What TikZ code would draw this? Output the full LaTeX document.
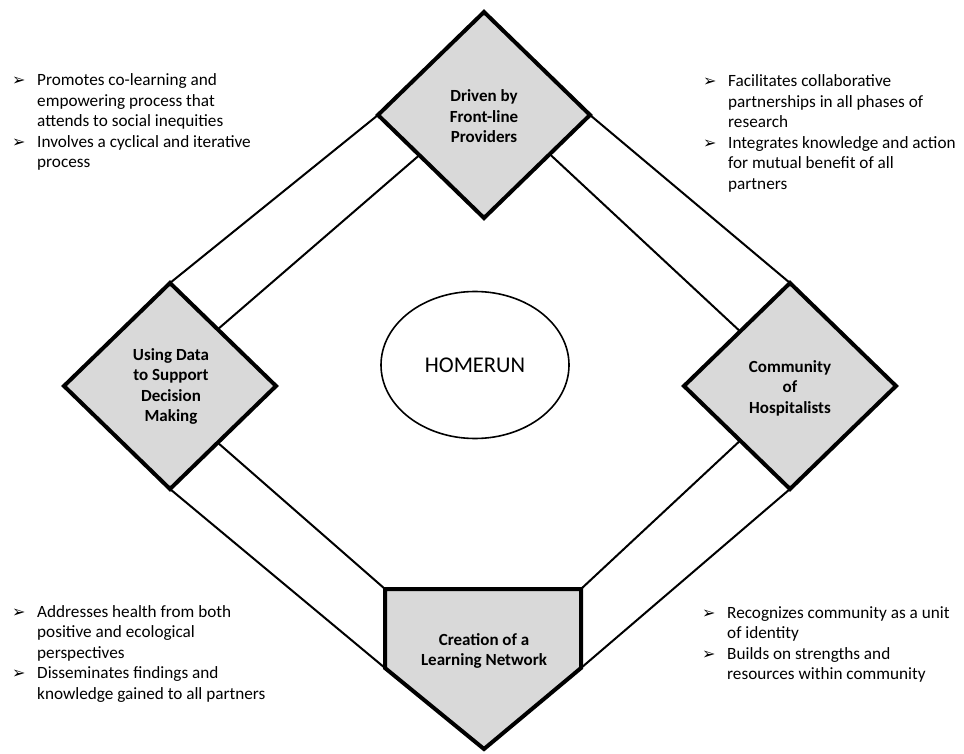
\documentclass[tikz,border=0pt]{standalone}
\usepackage{fontspec}
\setmainfont{Carlito}
\newfontfamily\dejavu{DejaVu Sans}
\usetikzlibrary{shapes.geometric,calc,backgrounds}
\definecolor{boxgray}{HTML}{D9D9D9}
\newcommand\bul{\makebox[25pt][l]{\dejavu\fontsize{16}{16}\selectfont ➢}}
\newcommand\ind{\hspace*{25pt}}
\tikzset{
  plate/.style={diamond, draw, line width=4pt, fill=boxgray, inner sep=0pt, outer sep=0pt,
                minimum width=212pt, minimum height=206pt},
  plateline/.style={draw, line width=4pt, fill=boxgray, line join=miter},
  conn/.style={line width=2pt},
  lbl/.style={inner sep=0pt, font=\fontsize{17}{20.5}\selectfont\bfseries},
  bulletblock/.style={inner sep=0pt, anchor=base west, font=\fontsize{17.2}{20.5}\selectfont},
}
\begin{document}
\begin{tikzpicture}[x=1pt,y={(0pt,-1pt)}]
\useasboundingbox (0,0) rectangle (964,754);

% diamonds
\node[plate] (top) at (484,115) {};
\node[plate] (left) at (170,386) {};
\node[plate] (right) at (790,386) {};

% home plate
\coordinate (pTL) at (385,589);
\coordinate (pTR) at (581,589);
\coordinate (pRM) at (581,668);
\coordinate (pB) at (484,749);
\coordinate (pLM) at (385,668);
\draw[plateline] (pTL) -- (pTR) -- (pRM) -- (pB) -- (pLM) -- cycle;

% connectors
\begin{scope}[on background layer]
\draw[conn] (top.west) -- (left.north);
\draw[conn] ($(top.west)!0.39!(top.south)$) -- ($(left.north)!0.45!(left.east)$);
\draw[conn] (top.east) -- (right.north);
\draw[conn] ($(top.east)!0.38!(top.south)$) -- ($(right.north)!0.47!(right.west)$);
\draw[conn] (left.south) -- (pLM);
\draw[conn] ($(left.south)!0.45!(left.east)$) -- (pTL);
\draw[conn] (right.south) -- (pRM);
\draw[conn] ($(right.south)!0.47!(right.west)$) -- (pTR);
\end{scope}

% labels
\node[lbl, anchor=base] (ltop) at (484,102)
  {\begin{tabular}[t]{@{}c@{}}Driven by\\Front-line\\Providers\end{tabular}};
\node[lbl, anchor=base] (lleft) at (171,360)
  {\begin{tabular}[t]{@{}c@{}}Using Data\\to Support\\Decision\\Making\end{tabular}};
\node[lbl, anchor=base] (lright) at (790,372)
  {\begin{tabular}[t]{@{}c@{}}Community\\of\\Hospitalists\end{tabular}};
\node[lbl, anchor=base] (lplate) at (484,645)
  {\begin{tabular}[t]{@{}c@{}}Creation of a\\Learning Network\end{tabular}};

% centre ellipse
\node[ellipse, draw, line width=1.6pt, minimum width=188pt, minimum height=147pt,
      inner sep=0pt, font=\fontsize{22.5}{26}\selectfont] (home) at (475,365) {HOMERUN};

% bullet blocks
\node[bulletblock] (btl) at (12,86)
  {\begin{tabular}[t]{@{}l@{}}\bul Promotes co-learning and\\\ind empowering process that\\\ind attends to social inequities\\\bul Involves a cyclical and iterative\\\ind process\end{tabular}};
\node[bulletblock] (btr) at (703,87)
  {\begin{tabular}[t]{@{}l@{}}\bul Facilitates collaborative\\\ind partnerships in all phases of\\\ind research\\\bul Integrates knowledge and action\\\ind for mutual benefit of all\\\ind partners\end{tabular}};
\node[bulletblock] (bbl) at (12,617)
  {\begin{tabular}[t]{@{}l@{}}\bul Addresses health from both\\\ind positive and ecological\\\ind perspectives\\\bul Disseminates findings and\\\ind knowledge gained to all partners\end{tabular}};
\node[bulletblock] (bbr) at (702,618)
  {\begin{tabular}[t]{@{}l@{}}\bul Recognizes community as a unit\\\ind of identity\\\bul Builds on strengths and\\\ind resources within community\end{tabular}};
\end{tikzpicture}
\end{document}
